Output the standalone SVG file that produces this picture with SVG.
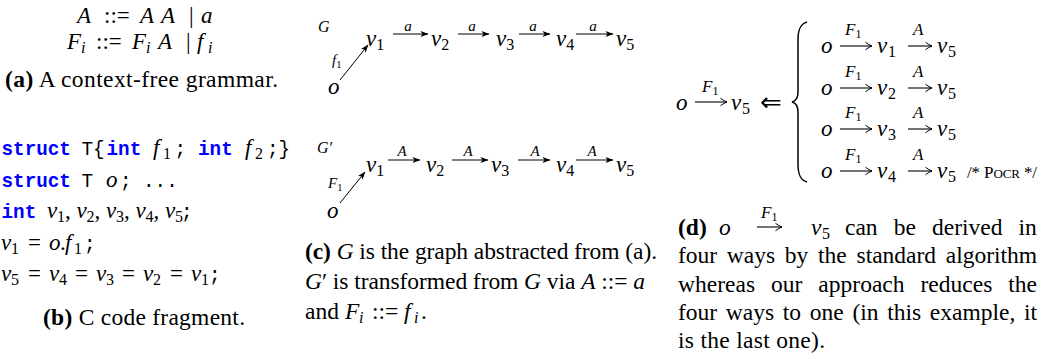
<svg xmlns="http://www.w3.org/2000/svg" width="1054" height="359" viewBox="0 0 1054 359">
<style>
text { font-family: "Liberation Serif", "Times New Roman", serif; font-size: 23px; fill: #000; }
.cap { font-size: 23.5px; }
.it { font-style: italic; }
.b { font-weight: bold; }
.sub { font-size: 16px; }
.mono { font-family: "Liberation Mono", "Courier New", monospace; font-size: 19.3px; }
.kw { font-family: "Liberation Mono", "Courier New", monospace; font-size: 19.3px; font-weight: bold; fill: #0000ff; }
.node { font-size: 23px; font-style: italic; }
.nsub { font-size: 16px; font-style: normal; }
.lbl { font-size: 15px; font-style: italic; }
.lsub { font-size: 10.5px; font-style: normal; }
.slbl { font-size: 17px; font-style: italic; }
.ssub { font-size: 12px; font-style: normal; }
.edge { stroke: #000; stroke-width: 1; fill: none; marker-end: url(#ah); }
.tarr { stroke: #000; stroke-width: 1.1; fill: none; marker-end: url(#th); }
.brace { stroke: #000; stroke-width: 1.5; fill: none; }
.sym { font-family: "DejaVu Sans", sans-serif; font-size: 26px; }
</style>
<defs>
<marker id="ah" markerWidth="8" markerHeight="6" refX="7.5" refY="3" orient="auto" markerUnits="userSpaceOnUse" overflow="visible">
<path d="M0,0 L8,3 L0,6 L2,3 Z" fill="#000"/>
</marker>
<marker id="th" markerWidth="7" markerHeight="8" refX="6.5" refY="4" orient="auto" markerUnits="userSpaceOnUse" overflow="visible">
<path d="M0,0.3 Q3.5,3 6.5,4 Q3.5,5 0,7.7" stroke="#000" stroke-width="1" fill="none"/>
</marker>
</defs>

<g id="grammar">
<text y="23"><tspan x="77" class="it">A</tspan><tspan x="104">::=</tspan><tspan x="140" class="it">A</tspan><tspan x="161" class="it">A</tspan><tspan x="189">|</tspan><tspan x="201" class="it">a</tspan></text>
<text y="49"><tspan x="67" class="it">F</tspan><tspan x="81" dy="4" class="it sub">i</tspan><tspan x="96" dy="-4">::=</tspan><tspan x="132" class="it">F</tspan><tspan x="146" dy="4" class="it sub">i</tspan><tspan x="158" dy="-4" class="it">A</tspan><tspan x="186">|</tspan><tspan x="197" class="it">f</tspan><tspan x="208" dy="4" class="it sub">i</tspan></text>
<text x="5" y="87" class="cap" textLength="273" lengthAdjust="spacing"><tspan class="b">(a)</tspan> A context-free grammar.</text>
</g>

<g id="code">
<text y="155"><tspan x="1.5" class="kw">struct</tspan><tspan x="81.5" class="mono">T{</tspan><tspan x="106.5" class="kw">int</tspan><tspan x="153" class="it">f</tspan><tspan x="163" dy="4" class="sub">1</tspan><tspan x="174.5" dy="-4" class="mono">;</tspan><tspan x="198" class="kw">int</tspan><tspan x="245" class="it">f</tspan><tspan x="255" dy="4" class="sub">2</tspan><tspan x="267" dy="-4" class="mono">;}</tspan></text>
<text y="187"><tspan x="1.5" class="kw">struct</tspan><tspan x="81.5" class="mono">T</tspan><tspan x="106" class="it">o</tspan><tspan x="120" class="mono">;</tspan><tspan x="143" class="mono">...</tspan></text>
<text y="218"><tspan x="1.5" class="kw">int</tspan><tspan x="47" class="it">v</tspan><tspan x="57" dy="4" class="sub">1</tspan><tspan x="65" dy="-4">,</tspan><tspan x="76.5" class="it">v</tspan><tspan x="86.5" dy="4" class="sub">2</tspan><tspan x="94.5" dy="-4">,</tspan><tspan x="106" class="it">v</tspan><tspan x="116" dy="4" class="sub">3</tspan><tspan x="124" dy="-4">,</tspan><tspan x="135.5" class="it">v</tspan><tspan x="145.5" dy="4" class="sub">4</tspan><tspan x="153.5" dy="-4">,</tspan><tspan x="165" class="it">v</tspan><tspan x="175" dy="4" class="sub">5</tspan><tspan x="181" dy="-4" class="mono">;</tspan></text>
<text y="250"><tspan x="1" class="it">v</tspan><tspan x="11" dy="4" class="sub">1</tspan><tspan x="28" dy="-4">=</tspan><tspan x="49" class="it">o</tspan><tspan x="60">.</tspan><tspan x="65" class="it">f</tspan><tspan x="74" dy="4" class="sub">1</tspan><tspan x="84" dy="-4" class="mono">;</tspan></text>
<text y="281"><tspan x="1" class="it">v</tspan><tspan x="11" dy="4" class="sub">5</tspan><tspan x="28" dy="-4">=</tspan><tspan x="49" class="it">v</tspan><tspan x="59" dy="4" class="sub">4</tspan><tspan x="75" dy="-4">=</tspan><tspan x="96" class="it">v</tspan><tspan x="106" dy="4" class="sub">3</tspan><tspan x="122" dy="-4">=</tspan><tspan x="143" class="it">v</tspan><tspan x="153" dy="4" class="sub">2</tspan><tspan x="170" dy="-4">=</tspan><tspan x="191" class="it">v</tspan><tspan x="201" dy="4" class="sub">1</tspan><tspan x="209" dy="-4" class="mono">;</tspan></text>
<text x="43" y="325" class="cap" textLength="202" lengthAdjust="spacing"><tspan class="b">(b)</tspan> C code fragment.</text>
</g>

<g id="graph-G">
<text x="318" y="32" class="it" style="font-size:16px">G</text>
<g id="G-o"><text x="328" y="94" class="node">o</text></g>
<g id="G-v1"><text x="366" y="46" class="node">v<tspan class="nsub" dy="4">1</tspan></text></g>
<g id="G-v2"><text x="431" y="46" class="node">v<tspan class="nsub" dy="4">2</tspan></text></g>
<g id="G-v3"><text x="496" y="46" class="node">v<tspan class="nsub" dy="4">3</tspan></text></g>
<g id="G-v4"><text x="556" y="46" class="node">v<tspan class="nsub" dy="4">4</tspan></text></g>
<g id="G-v5"><text x="616" y="46" class="node">v<tspan class="nsub" dy="4">5</tspan></text></g>
</g>
<g id="graph-G-edges">
<line class="edge" x1="340" y1="80" x2="368" y2="45"/>
<line class="edge" x1="393" y1="34" x2="428" y2="34"/>
<line class="edge" x1="458" y1="34" x2="489" y2="34"/>
<line class="edge" x1="519" y1="34" x2="550" y2="34"/>
<line class="edge" x1="576" y1="34" x2="613" y2="34"/>
<text x="332" y="65" class="lbl">f<tspan class="lsub" dy="3">1</tspan></text>
<text x="408" y="31" class="lbl" text-anchor="middle">a</text>
<text x="472" y="31" class="lbl" text-anchor="middle">a</text>
<text x="533" y="31" class="lbl" text-anchor="middle">a</text>
<text x="593" y="31" class="lbl" text-anchor="middle">a</text>
</g>

<g id="graph-Gp">
<text x="317" y="153" class="it" style="font-size:16px">G′</text>
<g id="Gp-o"><text x="327" y="218" class="node">o</text></g>
<g id="Gp-v1"><text x="366" y="172" class="node">v<tspan class="nsub" dy="4">1</tspan></text></g>
<g id="Gp-v2"><text x="426" y="172" class="node">v<tspan class="nsub" dy="4">2</tspan></text></g>
<g id="Gp-v3"><text x="491" y="172" class="node">v<tspan class="nsub" dy="4">3</tspan></text></g>
<g id="Gp-v4"><text x="556" y="172" class="node">v<tspan class="nsub" dy="4">4</tspan></text></g>
<g id="Gp-v5"><text x="616" y="172" class="node">v<tspan class="nsub" dy="4">5</tspan></text></g>
</g>
<g id="graph-Gp-edges">
<line class="edge" x1="340" y1="203" x2="365" y2="172"/>
<line class="edge" x1="388" y1="160" x2="420" y2="160"/>
<line class="edge" x1="452" y1="160" x2="488" y2="160"/>
<line class="edge" x1="518" y1="160" x2="550" y2="160"/>
<line class="edge" x1="576" y1="160" x2="613" y2="160"/>
<text x="328" y="188" class="lbl">F<tspan class="lsub" dy="3">1</tspan></text>
<text x="402" y="156" class="lbl" text-anchor="middle">A</text>
<text x="468" y="156" class="lbl" text-anchor="middle">A</text>
<text x="535" y="156" class="lbl" text-anchor="middle">A</text>
<text x="592" y="156" class="lbl" text-anchor="middle">A</text>
</g>

<g id="caption-c">
<text x="305" y="259" class="cap" textLength="352" lengthAdjust="spacing"><tspan class="b">(c)</tspan> <tspan class="it">G</tspan> is the graph abstracted from (a).</text>
<text x="305" y="289" class="cap" textLength="340" lengthAdjust="spacing"><tspan class="it">G</tspan>′ is transformed from <tspan class="it">G</tspan> via <tspan class="it">A</tspan> ::= <tspan class="it">a</tspan></text>
<text y="319" class="cap"><tspan x="305">and</tspan><tspan x="345" class="it">F</tspan><tspan x="359" dy="4" class="it sub">i</tspan><tspan x="372" dy="-4">::=</tspan><tspan x="404" class="it">f</tspan><tspan x="414" dy="4" class="it sub">i</tspan><tspan x="421" dy="-4">.</tspan></text>
</g>

<g id="derivation">
<text y="110"><tspan x="676" class="it">o</tspan><tspan x="731" class="it">v</tspan><tspan x="742" dy="4" class="sub">5</tspan></text>
<line class="tarr" x1="695" y1="102" x2="727" y2="102"/>
<text x="702" y="92" class="slbl">F<tspan class="ssub" dy="3">1</tspan></text>
<text x="760" y="111" class="sym">⇐</text>
<path class="brace" d="M807,22 C800,24 798,30 798,40 L798,92 C798,98 796,101 792,102 C796,103 798,106 798,112 L798,164 C798,174 800,180 807,182"/>
</g>

<g id="row1">
<text y="53"><tspan x="821" class="it">o</tspan><tspan x="877" class="it">v</tspan><tspan x="888" dy="4" class="sub">1</tspan><tspan x="937" dy="-4" class="it">v</tspan><tspan x="948" dy="4" class="sub">5</tspan></text>
<line class="tarr" x1="840" y1="46" x2="872" y2="46"/>
<line class="tarr" x1="908" y1="46" x2="932" y2="46"/>
<text x="845" y="35" class="slbl">F<tspan class="ssub" dy="3">1</tspan></text>
<text x="913" y="35" class="slbl">A</text>
</g>
<g id="row2">
<text y="95"><tspan x="821" class="it">o</tspan><tspan x="877" class="it">v</tspan><tspan x="888" dy="4" class="sub">2</tspan><tspan x="937" dy="-4" class="it">v</tspan><tspan x="948" dy="4" class="sub">5</tspan></text>
<line class="tarr" x1="840" y1="88" x2="872" y2="88"/>
<line class="tarr" x1="908" y1="88" x2="932" y2="88"/>
<text x="845" y="77" class="slbl">F<tspan class="ssub" dy="3">1</tspan></text>
<text x="913" y="77" class="slbl">A</text>
</g>
<g id="row3">
<text y="136"><tspan x="821" class="it">o</tspan><tspan x="877" class="it">v</tspan><tspan x="888" dy="4" class="sub">3</tspan><tspan x="937" dy="-4" class="it">v</tspan><tspan x="948" dy="4" class="sub">5</tspan></text>
<line class="tarr" x1="840" y1="129" x2="872" y2="129"/>
<line class="tarr" x1="908" y1="129" x2="932" y2="129"/>
<text x="845" y="118" class="slbl">F<tspan class="ssub" dy="3">1</tspan></text>
<text x="913" y="118" class="slbl">A</text>
</g>
<g id="row4">
<text y="178"><tspan x="821" class="it">o</tspan><tspan x="877" class="it">v</tspan><tspan x="888" dy="4" class="sub">4</tspan><tspan x="937" dy="-4" class="it">v</tspan><tspan x="948" dy="4" class="sub">5</tspan></text>
<line class="tarr" x1="840" y1="171" x2="872" y2="171"/>
<line class="tarr" x1="908" y1="171" x2="932" y2="171"/>
<text x="845" y="160" class="slbl">F<tspan class="ssub" dy="3">1</tspan></text>
<text x="913" y="160" class="slbl">A</text>
<text x="967" y="178" style="font-size:17px" textLength="70" lengthAdjust="spacing">/* P<tspan style="font-size:13px">OCR</tspan> */</text>
</g>

<g id="caption-d">
<text y="235" class="cap"><tspan x="678" class="b">(d)</tspan><tspan x="719" class="it">o</tspan><tspan x="811" class="it">v</tspan><tspan x="822" dy="4" class="sub">5</tspan><tspan x="845" dy="-4">can</tspan><tspan x="893.7">be</tspan><tspan x="932">derived</tspan><tspan x="1018.6">in</tspan></text>
<line class="tarr" x1="757" y1="227" x2="782" y2="227"/>
<text x="761" y="218" class="slbl">F<tspan class="ssub" dy="3">1</tspan></text>
<text x="678" y="263" class="cap" style="word-spacing:3.9px" textLength="359" lengthAdjust="spacing">four ways by the standard algorithm</text>
<text x="678" y="292" class="cap" style="word-spacing:10px" textLength="359" lengthAdjust="spacing">whereas our approach reduces the</text>
<text x="678" y="320" class="cap" style="word-spacing:2.8px" textLength="359" lengthAdjust="spacing">four ways to one (in this example, it</text>
<text x="678" y="348" class="cap" textLength="147" lengthAdjust="spacing">is the last one).</text>
</g>
</svg>
